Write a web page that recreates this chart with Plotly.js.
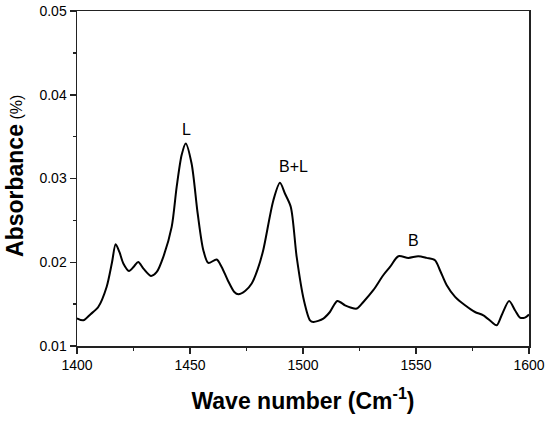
<!DOCTYPE html>
<html>
<head>
<meta charset="utf-8">
<script src="https://cdn.plot.ly/plotly-3.0.1.min.js"></script>
<style>html,body{margin:0;padding:0;background:#fff;}#chart{width:550px;height:421px;}</style>
</head>
<body>
<div id="chart"></div>
<script>
const waveNumber = [1400, 1402.8, 1406, 1409.4, 1413.1, 1415.5, 1417.1, 1418.8, 1420.5, 1423, 1425.2, 1427.1, 1429.5, 1432.7, 1435.3, 1438.2, 1441.9, 1444.1, 1446.3, 1448.1, 1450.7, 1453.4, 1455.9, 1458.1, 1461.8, 1464, 1466.8, 1469.6, 1471.4, 1474.5, 1477.3, 1480, 1482.4, 1486.9, 1489.8, 1492, 1494.6, 1497.2, 1500.4, 1503.1, 1504.6, 1509, 1511.9, 1515.2, 1518.6, 1521, 1523.8, 1526.7, 1531.1, 1535.5, 1538.5, 1542.2, 1546.6, 1551, 1554.7, 1558.4, 1560.6, 1563.6, 1567.3, 1571.7, 1576.1, 1579.8, 1583.5, 1585.7, 1587.9, 1591.2, 1593.8, 1596, 1598.2, 1600];
const absorbance = [0.0133, 0.01307, 0.0138, 0.01466, 0.01705, 0.0200, 0.02215, 0.0212, 0.01985, 0.01896, 0.0195, 0.02004, 0.0192, 0.01837, 0.01884, 0.02064, 0.02422, 0.0290, 0.0328, 0.03419, 0.0318, 0.02582, 0.02144, 0.01992, 0.02032, 0.01944, 0.0178, 0.01645, 0.01618, 0.0166, 0.01746, 0.0192, 0.02144, 0.02741, 0.02948, 0.02821, 0.02661, 0.02064, 0.01546, 0.01307, 0.01287, 0.01327, 0.01406, 0.01538, 0.01486, 0.0146, 0.01447, 0.01526, 0.01666, 0.01845, 0.01944, 0.02072, 0.02052, 0.02072, 0.02052, 0.02024, 0.01905, 0.01725, 0.01586, 0.01486, 0.01406, 0.01367, 0.01287, 0.01247, 0.01367, 0.01538, 0.01427, 0.01339, 0.01339, 0.01375];
const peakLabels = ["L", "B+L", "B"];
const peakX = [1448.5, 1495.7, 1548.8];
const peakY = [0.0358, 0.0314, 0.0226];
const xTicks = [1400, 1450, 1500, 1550, 1600];
const yTicks = [0.01, 0.02, 0.03, 0.04, 0.05];

const font = "Liberation Sans, Arial, sans-serif";
const trace = {
  x: waveNumber, y: absorbance, type: "scatter", mode: "lines",
  line: {color: "#000", width: 2, shape: "spline", smoothing: 0.8},
  hoverinfo: "skip"
};
const annotations = peakLabels.map((t, i) => ({
  x: peakX[i], y: peakY[i], text: t, showarrow: false,
  font: {family: font, size: 16, color: "#000"}
}));
annotations.push({
  xref: "paper", yref: "paper", x: -0.137, y: 0.463, xanchor: "center", yanchor: "middle",
  textangle: -90, showarrow: false,
  text: "<b>Absorbance</b>",
  font: {family: font, size: 23, color: "#000"}
});
annotations.push({
  xref: "paper", yref: "paper", x: -0.134, y: 0.713, xanchor: "center", yanchor: "middle",
  textangle: -90, showarrow: false,
  text: "(%)",
  font: {family: font, size: 16, color: "#000"}
});
const layout = {
  width: 550, height: 421,
  margin: {l: 77, r: 21, t: 11, b: 75},
  paper_bgcolor: "#fff", plot_bgcolor: "#fff",
  showlegend: false,
  annotations: annotations,
  xaxis: {
    range: [1400, 1600], tickvals: xTicks, ticktext: xTicks.map(String),
    ticks: "outside", ticklen: 6, tickwidth: 1.5, tickcolor: "#222",
    minor: {tickvals: [1425, 1475, 1525, 1575], ticks: "outside", ticklen: 3, tickwidth: 1.5, tickcolor: "#222", showgrid: false},
    showline: true, linecolor: "#222", linewidth: 1.5, mirror: true,
    showgrid: false, zeroline: false,
    tickfont: {family: font, size: 14, color: "#000"},
    title: {text: "<b>Wave number (Cm<sup>-1</sup>)</b>", font: {family: font, size: 23, color: "#000"}, standoff: 20}
  },
  yaxis: {
    range: [0.01, 0.05], tickvals: yTicks, ticktext: yTicks.map(v => v.toFixed(2)),
    ticks: "outside", ticklen: 6, tickwidth: 1.5, tickcolor: "#222",
    minor: {tickvals: [0.015, 0.025, 0.035, 0.045], ticks: "outside", ticklen: 3, tickwidth: 1.5, tickcolor: "#222", showgrid: false},
    showline: true, linecolor: "#222", linewidth: 1.5, mirror: true,
    showgrid: false, zeroline: false,
    tickfont: {family: font, size: 14, color: "#000"}
  }
};
Plotly.newPlot("chart", [trace], layout, {displayModeBar: false, staticPlot: true});
</script>
</body>
</html>
